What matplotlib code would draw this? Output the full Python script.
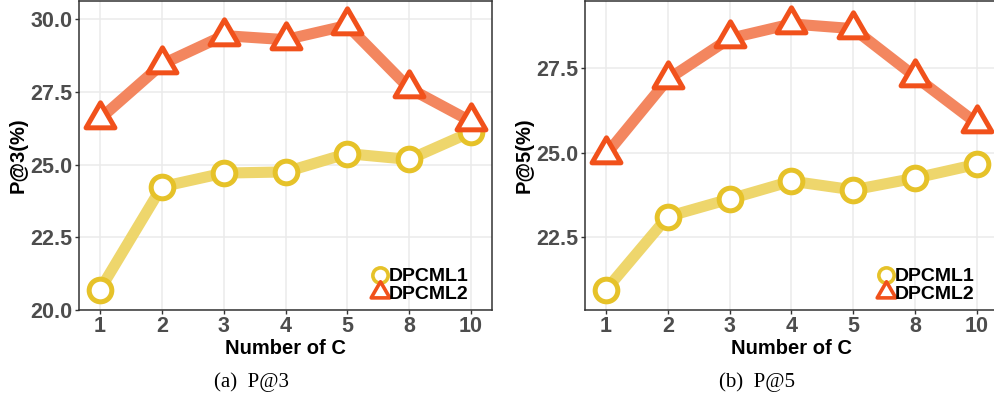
import matplotlib
matplotlib.use("Agg")
import matplotlib.pyplot as plt
from matplotlib.path import Path
from matplotlib.markers import MarkerStyle
from matplotlib.lines import Line2D

categories = ["1", "2", "3", "4", "5", "8", "10"]
p3_dpcml1 = [20.70, 24.24, 24.71, 24.75, 25.38, 25.18, 26.12]
p3_dpcml2 = [26.58, 28.45, 29.44, 29.30, 29.79, 27.63, 26.49]
p5_dpcml1 = [20.94, 23.11, 23.63, 24.16, 23.90, 24.25, 24.66]
p5_dpcml2 = [24.95, 27.18, 28.39, 28.82, 28.68, 27.26, 25.87]
series_names = ["DPCML1", "DPCML2"]
y_labels = ["P@3(%)", "P@5(%)"]
captions = ["(a)  P@3", "(b)  P@5"]
x_label = "Number of C"

SANS = ["Liberation Sans", "DejaVu Sans"]
SERIF = ["Liberation Serif", "DejaVu Serif"]

tri = Path([(0, 1), (-0.8660254, -0.5), (0.8660254, -0.5), (0, 1)],
           [Path.MOVETO, Path.LINETO, Path.LINETO, Path.CLOSEPOLY])
tri_marker = MarkerStyle(tri, joinstyle="miter")

line_cols = ["#EED66C", "#F3865F"]
edge_cols = ["#E6C229", "#F1511B"]

fig = plt.figure(figsize=(9.95, 3.95), dpi=100)
W, H = 995.0, 395.0
axes_px = [(79, 1, 413, 309), (585, 1, 413, 309)]
ylims = [(20.0, 30.63), (20.34, 29.5)]
yticks = [[20.0, 22.5, 25.0, 27.5, 30.0], [22.5, 25.0, 27.5]]
data = [(p3_dpcml1, p3_dpcml2), (p5_dpcml1, p5_dpcml2)]
cap_x = [252, 757]

for i in range(2):
    x0, y0, w, h = axes_px[i]
    ax = fig.add_axes([x0 / W, (H - y0 - h) / H, w / W, h / H])
    s1, s2 = data[i]
    xs = list(range(len(categories)))
    ax.plot(xs, s1, color=line_cols[0], lw=8, solid_capstyle="butt", zorder=2)
    ax.plot(xs, s1, ls="none", marker="o", ms=16.3, mew=3.6,
            mfc="white", mec=edge_cols[0], zorder=3)
    ax.plot(xs, s2, color=line_cols[1], lw=8, solid_capstyle="butt", zorder=4)
    ax.plot(xs, s2, ls="none", marker=tri_marker, ms=24, mew=3.6,
            mfc="white", mec=edge_cols[1], zorder=5)

    ax.set_xlim(-0.34, 6.34)
    ax.set_ylim(*ylims[i])
    ax.set_xticks(xs)
    ax.set_xticklabels(categories)
    ax.set_yticks(yticks[i])
    ax.set_yticklabels([f"{v:.1f}" for v in yticks[i]])
    ax.grid(True, color="#EBEBEB", lw=1.1)
    ax.set_axisbelow(True)
    for sp in ax.spines.values():
        sp.set_color("#333333")
        sp.set_linewidth(1.1)
    ax.tick_params(axis="both", length=3, width=1, color="#333333",
                   labelcolor="#4D4D4D", pad=1.5)
    for lab in ax.get_xticklabels() + ax.get_yticklabels():
        lab.set_fontfamily(SANS)
        lab.set_fontweight("bold")
        lab.set_fontsize(15.5)
    ax.set_xlabel(x_label, fontsize=14.5, fontweight="bold",
                  family=SANS, color="black", labelpad=1)
    ax.set_ylabel(y_labels[i], fontsize=14.5, fontweight="bold",
                  family=SANS, color="black", labelpad=2)

    handles = [
        Line2D([], [], ls="none", marker="o", ms=11, mew=2.6,
               mfc="white", mec=edge_cols[0]),
        Line2D([], [], ls="none", marker=tri_marker, ms=15.5, mew=2.6,
               mfc="white", mec=edge_cols[1]),
    ]
    ax.legend(handles, series_names, loc="lower right",
              bbox_to_anchor=(1 - 23 / 413, 7 / 309),
              frameon=False, handlelength=0.8, handletextpad=0.08,
              labelspacing=0.0, borderpad=0, borderaxespad=0,
              prop={"family": SANS, "weight": "bold", "size": 14})

    fig.text(cap_x[i] / W, 1 - 382 / H, captions[i], ha="center",
             va="center", family=SERIF, fontsize=15, color="black")

fig.savefig("out.png", dpi=100)
